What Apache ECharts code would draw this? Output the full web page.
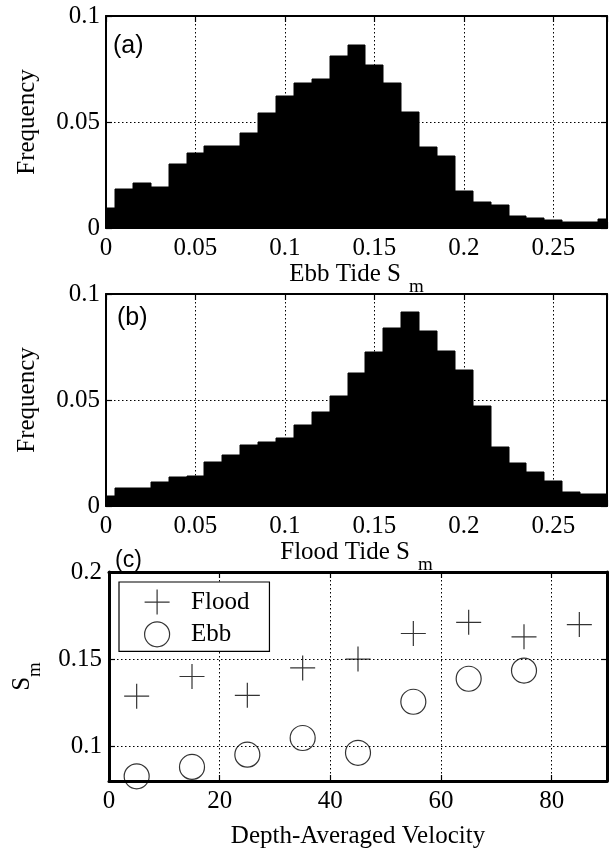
<!DOCTYPE html>
<html><head><meta charset="utf-8">
<script src="https://cdn.jsdelivr.net/npm/echarts@6/dist/echarts.min.js"></script>
<style>html,body{margin:0;padding:0;background:#fff}#c{width:610px;height:850px}</style>
</head><body><div id="c"></div>
<script>
// ---- data ----
const binCenters = [0,0.01,0.02,0.03,0.04,0.05,0.06,0.07,0.08,0.09,0.10,0.11,0.12,0.13,0.14,
  0.15,0.16,0.17,0.18,0.19,0.20,0.21,0.22,0.23,0.24,0.25,0.26,0.27,0.28];
const binWidth = 0.01;
const ebbFreq = [0.0093,0.0185,0.0212,0.0192,0.0300,0.0353,0.0389,0.0389,0.0447,0.0542,0.0625,
  0.0686,0.0702,0.0812,0.0865,0.0768,0.0684,0.0545,0.0381,0.0341,0.0173,0.0121,0.0110,0.0058,
  0.0046,0.0039,0.0028,0.0028,0.0042];
const floodFreq = [0.0047,0.0083,0.0083,0.0115,0.0135,0.0142,0.0206,0.0240,0.0290,0.0300,0.0320,
  0.0380,0.0445,0.0520,0.0629,0.0728,0.0841,0.0913,0.0825,0.0731,0.0642,0.0473,0.0277,0.0204,
  0.0159,0.0118,0.0066,0.0056,0.0056];
const velocityFlood = [5,15,25,35,45,55,65,75,85];
const floodSm = [0.1287,0.1400,0.1292,0.1449,0.1500,0.1647,0.1711,0.1628,0.1698];
const velocityEbb = [5,15,25,35,45,55,65,75];
const ebbSm = [0.0827,0.0881,0.0951,0.1047,0.0962,0.1255,0.1387,0.1434];
const histXTicks = [0,0.05,0.1,0.15,0.2,0.25];
const histYTicks = [0,0.05,0.1];
const velXTicks = [0,20,40,60,80];
const smYTicks = [0.1,0.15,0.2];

// ---- styles ----
const SERIF = 'Liberation Serif';
const SANS = 'Liberation Sans';
const BLACK = '#000';
function tickFmt(list){
  return function(v){
    for (const t of list) if (Math.abs(t - v) < 1e-9) return String(t);
    return '';
  };
}
function axisBase(gi, primary, lw){
  return {
    gridIndex: gi, type: 'value', z: 3,
    axisLine: {show: true, onZero: false, lineStyle: {color: BLACK, width: lw}},
    axisTick: {show: true, inside: true, length: 6, lineStyle: {color: BLACK, width: 1.2}},
    splitLine: {show: primary, lineStyle: {color: BLACK, width: 1, type: [1.5, 2.5]}},
    axisLabel: {show: primary, color: BLACK, fontFamily: SERIF, fontSize: 25}
  };
}
function subName(main, sub, padL){
  return {
    text: '{t|' + main + '}{s|' + sub + '}',
    rich: {
      t: {fontFamily: SERIF, fontSize: 25, color: BLACK},
      s: {fontFamily: SERIF, fontSize: 19, color: BLACK, padding: [26, 0, 0, padL]}
    }
  };
}

const grids = [
  {left: 106, top: 16, width: 503, height: 212},
  {left: 106, top: 294, width: 503, height: 212},
  {left: 109, top: 572, width: 500, height: 211}
];

const xAxes = [], yAxes = [];
// histogram panels
[['Ebb Tide S', 22], ['Flood Tide S', 20]].forEach(function(nm, gi){
  const sn = subName(nm[0], 'm', 8);
  const xb = axisBase(gi, true, 2);
  Object.assign(xb, {position: 'bottom', min: 0, max: 0.28, interval: 0.05,
    name: sn.text, nameLocation: 'middle', nameGap: nm[1], nameTextStyle: {rich: sn.rich}});
  xb.axisLabel.formatter = tickFmt(histXTicks); xb.axisLabel.margin = 8;
  const xt = axisBase(gi, false, 2);
  Object.assign(xt, {position: 'top', min: 0, max: 0.28, interval: 0.05});
  const yl = axisBase(gi, true, 2);
  Object.assign(yl, {position: 'left', min: 0, max: 0.1, interval: 0.05,
    name: 'Frequency', nameLocation: 'middle', nameGap: 66,
    nameTextStyle: {fontFamily: SERIF, fontSize: 25, color: BLACK}});
  yl.axisLabel.formatter = tickFmt(histYTicks); yl.axisLabel.margin = 6;
  const yr = axisBase(gi, false, 2);
  Object.assign(yr, {position: 'right', min: 0, max: 0.1, interval: 0.05});
  xAxes.push(xb, xt); yAxes.push(yl, yr);
});
// scatter panel
(function(){
  const gi = 2;
  const xb = axisBase(gi, true, 3);
  Object.assign(xb, {position: 'bottom', min: 0, max: 90, interval: 20,
    name: 'Depth-Averaged Velocity', nameLocation: 'middle', nameGap: 43,
    nameTextStyle: {fontFamily: SERIF, fontSize: 25, color: BLACK}});
  xb.axisLabel.formatter = tickFmt(velXTicks); xb.axisLabel.margin = 8;
  const xt = axisBase(gi, false, 3);
  Object.assign(xt, {position: 'top', min: 0, max: 90, interval: 20});
  const sn = subName('S', 'm', 0);
  const yl = axisBase(gi, true, 3);
  Object.assign(yl, {position: 'left', min: 0.08, max: 0.2, splitNumber: 3,
    name: sn.text, nameLocation: 'middle', nameGap: 64, nameTextStyle: {rich: sn.rich}});
  yl.axisLabel.formatter = tickFmt(smYTicks); yl.axisLabel.margin = 7;
  const yr = axisBase(gi, false, 3);
  Object.assign(yr, {position: 'right', min: 0.08, max: 0.2, splitNumber: 3});
  xAxes.push(xb, xt); yAxes.push(yl, yr);
})();

function histSeries(vals, xi, yi){
  return {
    type: 'custom', xAxisIndex: xi, yAxisIndex: yi, z: 2, clip: true,
    data: binCenters.map(function(c, i){ return [c, vals[i]]; }),
    renderItem: function(params, api){
      const c = api.value(0), v = api.value(1);
      const lo = Math.max(c - binWidth / 2, 0), hi = Math.min(c + binWidth / 2, 0.28);
      const p0 = api.coord([lo, 0]), p1 = api.coord([hi, v]);
      const x0 = Math.round(p0[0]), x1 = Math.round(p1[0]);
      const yTop = Math.round(p1[1]), yBot = Math.round(p0[1]);
      return {type: 'rect', shape: {x: x0, y: yTop, width: x1 - x0, height: yBot - yTop},
        style: {fill: BLACK, stroke: BLACK, lineWidth: 1}};
    }
  };
}

const chart = echarts.init(document.getElementById('c'), null, {renderer: 'canvas'});
chart.setOption({
  backgroundColor: '#fff',
  animation: false,
  grid: grids,
  xAxis: xAxes,
  yAxis: yAxes,
  legend: {
    data: ['Flood', 'Ebb'], orient: 'vertical', left: 119, top: 582,
    padding: [7, 20, 4, 25], itemGap: 6, itemWidth: 58, itemHeight: 25,
    backgroundColor: '#fff', borderColor: BLACK, borderWidth: 1.2,
    textStyle: {fontFamily: SERIF, fontSize: 25, color: BLACK},
    itemStyle: {color: 'transparent', borderColor: BLACK, borderWidth: 1.2}
  },
  graphic: [
    {type: 'text', left: 113, top: 34, z: 10, style: {text: '(a)', font: '25px ' + SANS, fill: BLACK}},
    {type: 'text', left: 117, top: 306, z: 10, style: {text: '(b)', font: '25px ' + SANS, fill: BLACK}},
    {type: 'text', left: 115, top: 549, z: 10, style: {text: '(c)', font: '23px ' + SANS, fill: BLACK}}
  ],
  series: [
    histSeries(ebbFreq, 0, 0),
    histSeries(floodFreq, 2, 2),
    {
      name: 'Flood', type: 'scatter', xAxisIndex: 4, yAxisIndex: 4, z: 4,
      symbol: 'path://M0,-1L0,1M-1,0L1,0', symbolSize: 25,
      itemStyle: {color: 'transparent', borderColor: BLACK, borderWidth: 1.2},
      data: velocityFlood.map(function(v, i){ return [v, floodSm[i]]; })
    },
    {
      name: 'Ebb', type: 'scatter', xAxisIndex: 4, yAxisIndex: 4, z: 4,
      symbol: 'circle', symbolSize: 25,
      itemStyle: {color: 'transparent', borderColor: BLACK, borderWidth: 1.2},
      data: velocityEbb.map(function(v, i){ return [v, ebbSm[i]]; })
    }
  ]
});
</script></body></html>
